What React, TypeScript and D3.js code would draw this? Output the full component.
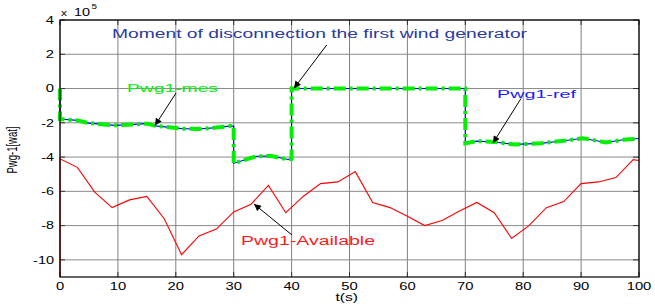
import React from "react";
import * as d3 from "d3";

const W = 655;
const H = 308;

// x 10^5 units
const availT = [0, 0, 3, 6, 9, 12, 15, 18, 21, 24, 27, 30, 33, 36, 39, 42, 45, 48, 51, 54, 57, 60, 63, 66, 69, 72, 75, 78, 81, 84, 87, 90, 93, 96, 99, 100];
const availV = [-11, -4.1, -4.6, -6.05, -6.95, -6.5, -6.3, -7.6, -9.7, -8.6, -8.2, -7.2, -6.75, -5.65, -7.25, -6.3, -5.55, -5.45, -4.85, -6.65, -6.95, -7.45, -8.0, -7.7, -7.15, -6.65, -7.25, -8.75, -8.0, -6.95, -6.6, -5.55, -5.45, -5.2, -4.15, -4.2];

const refT = [0, 0, 3, 5, 9.5, 15, 16.5, 21, 24, 27, 29.6, 30, 30, 34, 36.5, 39.4, 40, 40, 70, 70, 72, 75, 78.5, 83, 87, 90.3, 94.3, 97, 100];
const refV = [0, -1.78, -1.86, -2.02, -2.15, -2.05, -2.18, -2.34, -2.36, -2.28, -2.18, -2.2, -4.36, -3.95, -3.94, -4.14, -4.1, 0, 0, -3.2, -3.07, -3.12, -3.26, -3.2, -3.05, -2.9, -3.15, -3.0, -2.92];

const xTicks = [0, 10, 20, 30, 40, 50, 60, 70, 80, 90, 100];
const yTicks = [4, 2, 0, -2, -4, -6, -8, -10];

const titleText = "Moment of disconnection the first wind generator";
const mesLabel = "Pwg1-mes";
const refLabel = "Pwg1-ref";
const availLabel = "Pwg1-Available";
const yLabel = "Pwg-1[wat]";
const xLabel = "t(s)";

const FONT = "'Liberation Sans', Arial, Helvetica, sans-serif";

function widthOf(s: string) {
  let w = 0;
  for (const c of s) w += c === "-" ? 4.5 : 8.2;
  return w;
}

export default function App() {
  const left = 60, right = 639, top = 20, bottom = 277;
  const x = d3.scaleLinear().domain([0, 100]).range([left, right]);
  const y = d3.scaleLinear().domain([-11, 4]).range([bottom, top]);

  const mk = (ts: number[], vs: number[]) =>
    d3
      .line<number>()
      .x((t) => x(t))
      .y((_, i) => y(vs[i]))(ts) || "";

  const availPath = mk(availT, availV);
  const refPath = mk(refT, refV);

  return (
    <svg
      width={W}
      height={H}
      style={{ position: "absolute", left: 0, top: 0, background: "#fff" }}
      fontFamily={FONT}
    >
      <defs>
        <marker id="ah" viewBox="0 0 10 10" refX="10" refY="5" markerWidth="9" markerHeight="7" orient="auto" markerUnits="userSpaceOnUse">
          <path d="M0,0 L10,5 L0,10 z" fill="#000" />
        </marker>
      </defs>
      <rect x={0} y={0} width={W} height={H} fill="#fff" />
      {xTicks.map((t) => (
        <line key={"gx" + t} x1={x(t)} x2={x(t)} y1={top} y2={bottom} stroke="#808080" strokeWidth={1} />
      ))}
      {yTicks.map((v) => (
        <line key={"gy" + v} x1={left} x2={right} y1={y(v)} y2={y(v)} stroke="#8a8a8a" strokeWidth={1} />
      ))}
      {yTicks.map((v) => (
        <g key={"ty" + v}>
          <line x1={left} x2={left + 5} y1={y(v)} y2={y(v)} stroke="#333" />
          <line x1={right - 6} x2={right} y1={y(v)} y2={y(v)} stroke="#333" />
        </g>
      ))}
      {xTicks.map((t) => (
        <g key={"tx" + t}>
          <line x1={x(t)} x2={x(t)} y1={bottom} y2={bottom - 5} stroke="#333" />
          <line x1={x(t)} x2={x(t)} y1={top} y2={top + 5} stroke="#333" />
        </g>
      ))}

      <path d={availPath} fill="none" stroke="#ff0000" strokeWidth={1.1} />
      <path d={refPath} fill="none" stroke="#0000ff" strokeWidth={1.1} />
      <path d={refPath} fill="none" stroke="#00f000" strokeWidth={4} strokeDasharray="12,4,3,4" />

      <rect x={left} y={top} width={right - left} height={bottom - top} fill="none" stroke="#000" strokeWidth={1.2} />

      {yTicks.map((v) => (
        <text
          key={"ly" + v}
          x={54}
          y={y(v) + 3.8}
          fontSize={10}
          textAnchor="end"
          textLength={widthOf(String(v))}
          lengthAdjust="spacingAndGlyphs"
          fill="#000"
        >
          {v}
        </text>
      ))}
      {xTicks.map((t) => (
        <text
          key={"lx" + t}
          x={x(t)}
          y={289.5}
          fontSize={10}
          textAnchor="middle"
          textLength={widthOf(String(t))}
          lengthAdjust="spacingAndGlyphs"
          fill="#000"
        >
          {t}
        </text>
      ))}

      <text x={61} y={16} fontSize={9.5} textLength={6} lengthAdjust="spacingAndGlyphs">x</text>
      <text x={74} y={16.3} fontSize={10} textLength={16} lengthAdjust="spacingAndGlyphs">10</text>
      <text x={91.5} y={8.5} fontSize={7} textLength={5.5} lengthAdjust="spacingAndGlyphs">5</text>

      <text x={335.5} y={300.5} fontSize={10.5} textLength={22.5} lengthAdjust="spacingAndGlyphs">{xLabel}</text>
      <text transform="translate(16.5,150) rotate(-90) scale(1,1.45)" fontSize={9.5} textAnchor="middle" dy="0">{yLabel}</text>

      <text x={112} y={38.3} fontSize={12.5} fill="#2a3a9e" textLength={415} lengthAdjust="spacingAndGlyphs">{titleText}</text>
      <line x1={326.7} y1={45} x2={294} y2={88.3} stroke="#000" strokeWidth={1} markerEnd="url(#ah)" />

      <text x={127} y={91.5} fontSize={11.5} fill="#00f000" textLength={91} lengthAdjust="spacingAndGlyphs">{mesLabel}</text>
      <line x1={176} y1={93} x2={155} y2={125.5} stroke="#000" strokeWidth={1} markerEnd="url(#ah)" />

      <text x={497} y={97.7} fontSize={11.5} fill="#1a1aff" textLength={79} lengthAdjust="spacingAndGlyphs">{refLabel}</text>
      <line x1={521} y1={98.5} x2={493} y2={143} stroke="#000" strokeWidth={1} markerEnd="url(#ah)" />

      <text x={241} y={244.6} fontSize={12.5} fill="#ff1a1a" textLength={134} lengthAdjust="spacingAndGlyphs">{availLabel}</text>
      <line x1={292} y1={235} x2={254} y2={204} stroke="#000" strokeWidth={1} markerEnd="url(#ah)" />
    </svg>
  );
}
